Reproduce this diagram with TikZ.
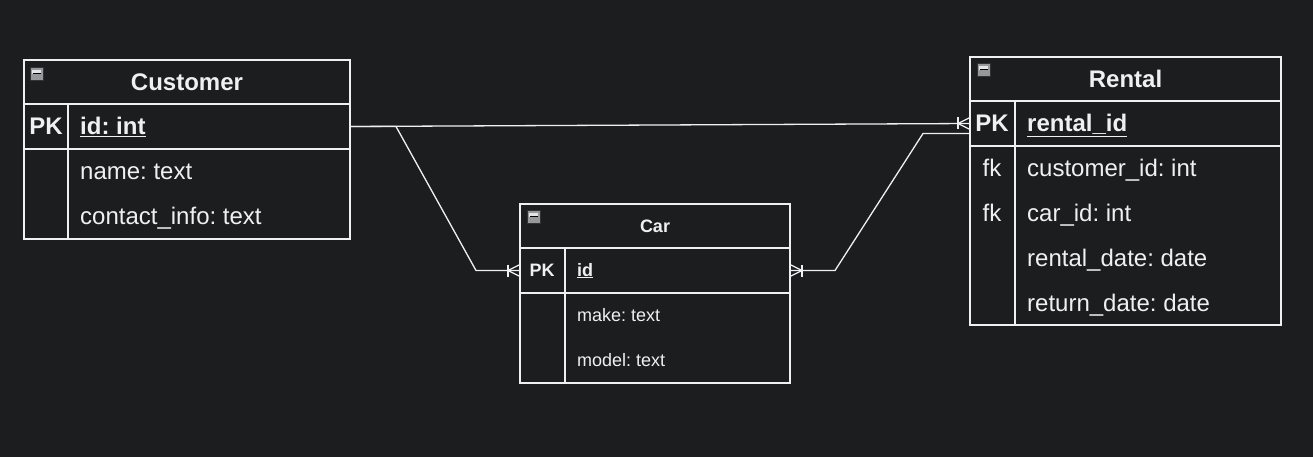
\documentclass[tikz,border=0pt]{standalone}
\usepackage{fontspec}
\setmainfont{Liberation Sans}
\usetikzlibrary{positioning,calc}
\definecolor{canvas}{RGB}{27,29,31}
\definecolor{ink}{RGB}{240,240,240}
\definecolor{foldgray}{RGB}{150,152,156}
\frenchspacing

\tikzset{
  cell/.style={draw=ink, line width=1.3pt, anchor=north west, inner sep=0pt, outer sep=0pt},
  bigtitle/.style={cell, text=ink, font=\bfseries\fontsize{24}{28}\selectfont},
  smalltitle/.style={cell, text=ink, font=\bfseries\fontsize{18}{22}\selectfont},
  bigfield/.style={text=ink, inner sep=0pt, text height=18pt, text depth=3pt, font=\fontsize{24}{28}\selectfont},
  smallfield/.style={text=ink, inner sep=0pt, text height=14pt, text depth=2pt, font=\fontsize{18}{22}\selectfont},
  link/.style={draw=ink, line width=1.3pt},
  manyend/.pic={
    \draw[link] (0,-6) -- (-12,0) -- (0,6);
    \draw[link] (-12,-6) -- (-12,6);
  }
}
\newcommand{\foldicon}[1]{%
  \draw[fill=foldgray, draw=gray!40!black] (#1) rectangle ++(13,13);
  \fill[gray!20] ($(#1)+(2,3)$) rectangle ++(9,4);
  \draw[black, line width=1.6pt] ($(#1)+(2.5,6.5)$) -- ++(8,0);
}

\begin{document}
\begin{tikzpicture}[x=1pt, y=-1pt]
\fill[canvas] (0,0) rectangle (1313,457);
\useasboundingbox (0,0) rectangle (1313,457);

% Customer
\node[bigtitle, minimum width=326pt, minimum height=44pt] (customerhead) at (24,60) {Customer};
\node[cell, minimum width=326pt, minimum height=45pt] (customerpk) at (customerhead.south west) {};
\node[cell, minimum width=326pt, minimum height=90pt] (customerbody) at (customerpk.south west) {};
\draw[link] ([xshift=44pt]customerpk.north west) -- ([xshift=44pt]customerbody.south west);
\foldicon{30,67}
\node[bigfield, font=\bfseries\fontsize{24}{28}\selectfont] at (46,127) {PK};
\node[bigfield, anchor=west, font=\bfseries\fontsize{24}{28}\selectfont] at (80,127) {\underline{id: int}};
\node[bigfield, anchor=west] at (80,172) {name: text};
\node[bigfield, anchor=west] at (80,217) {contact\_info: text};

% Car
\node[smalltitle, minimum width=270pt, minimum height=44pt] (carhead) at (520,204) {Car};
\node[cell, minimum width=270pt, minimum height=45pt] (carpk) at (carhead.south west) {};
\node[cell, minimum width=270pt, minimum height=90pt] (carbody) at (carpk.south west) {};
\draw[link] ([xshift=45pt]carpk.north west) -- ([xshift=45pt]carbody.south west);
\foldicon{527,210}
\node[smallfield, font=\bfseries\fontsize{18}{22}\selectfont] at (542,270) {PK};
\node[smallfield, anchor=west, font=\bfseries\fontsize{18}{22}\selectfont] at (577,270) {\underline{id}};
\node[smallfield, anchor=west] at (577,315) {make: text};
\node[smallfield, anchor=west] at (577,360) {model: text};

% Rental
\node[bigtitle, minimum width=311pt, minimum height=44pt] (rentalhead) at (970,57) {Rental};
\node[cell, minimum width=311pt, minimum height=45pt] (rentalpk) at (rentalhead.south west) {};
\node[cell, minimum width=311pt, minimum height=179pt] (rentalbody) at (rentalpk.south west) {};
\draw[link] ([xshift=45pt]rentalpk.north west) -- ([xshift=45pt]rentalbody.south west);
\foldicon{977,63}
\node[bigfield, font=\bfseries\fontsize{24}{28}\selectfont] at (992,124) {PK};
\node[bigfield, anchor=west, font=\bfseries\fontsize{24}{28}\selectfont] at (1027,124) {\underline{rental\_id}};
\node[bigfield] at (992,169) {fk};
\node[bigfield] at (992,214) {fk};
\node[bigfield, anchor=west] at (1027,169) {customer\_id: int};
\node[bigfield, anchor=west] at (1027,214) {car\_id: int};
\node[bigfield, anchor=west] at (1027,259) {rental\_date: date};
\node[bigfield, anchor=west] at (1027,304) {return\_date: date};

% relations
\draw[link] (customerpk.east) -- (rentalpk.west);
\pic at (rentalpk.west) {manyend};
\draw[link] (customerpk.east) -- ++(46,0) -- ([xshift=-44pt]carpk.west) -- (carpk.west);
\pic at (carpk.west) {manyend};
\draw[link] ([yshift=-10pt]rentalpk.west) -- ++(-47,0) -- ([xshift=45pt]carpk.east) -- (carpk.east);
\pic[rotate=180] at (carpk.east) {manyend};
\end{tikzpicture}
\end{document}
